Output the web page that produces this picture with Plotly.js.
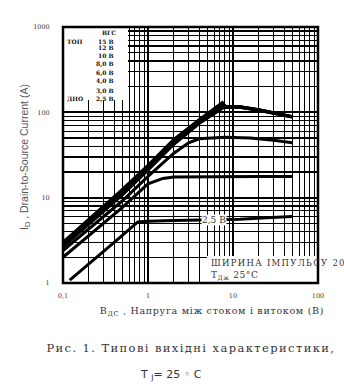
<!DOCTYPE html>
<html><head><meta charset="utf-8">
<script src="https://cdn.plot.ly/plotly-3.0.1.min.js"></script>
<style>html,body{margin:0;padding:0;background:#fff}#chart{width:344px;height:384px}</style>
</head><body><div id="chart"></div>
<script>
// ---- data ----
const vgsLabels = ['15 В','12 В','10 В','8,0 В','6,0 В','4,0 В','3,0 В','2,5 В'];
const vdsHigh = [0.1,0.2,0.5,1,2,4,7.5,8.2,12,20,35,50];
const id15 = [3.0,5.6,12.5,24,48,82,130,117,116,107,96,89];
const id12 = [2.95,5.5,12.2,23.5,47,81,126,117,116,107,96,89];
const id10 = [2.85,5.3,11.8,23,46,79,121,117,116,107,96,89];
const id8  = [2.75,5.1,11.3,22,44,77,117,116,115,106,95,88];
const id6  = [2.65,4.9,10.8,21,42,74,112,114,115,106,95,88];
const vds4 = [0.1,0.2,0.5,1,2,3,4,8,16,30,50];
const id4  = [2.4,4.3,9.2,17.8,33,44,49,51,50,47,44];
const vds3 = [0.1,0.2,0.5,1,1.5,2,5,20,50];
const id3  = [2.0,3.6,7.7,14.5,16.8,17.5,17.7,17.7,17.7];
const vds25 = [0.12,0.2,0.4,0.76,1,2,5,12,25,50];
const id25  = [1.08,1.65,3.0,5.2,5.3,5.4,5.5,5.6,5.8,6.0];
const xTickVals = [0.1,1,10,100];
const xTickText = ['0,1','1','10','100'];
const yTickVals = [1,10,100,1000];
const yTickText = ['1','10','100','1000'];
const gridDigits = [2,3,4,5,6,7,8,9];

const minorX = [], minorY = [];
[0.1,1,10].forEach(d=>gridDigits.forEach(k=>minorX.push(k*d)));
[1,10,100].forEach(d=>gridDigits.forEach(k=>minorY.push(k*d)));

const series = [
  [vdsHigh,id15],[vdsHigh,id12],[vdsHigh,id10],[vdsHigh,id8],[vdsHigh,id6],
  [vds4,id4],[vds3,id3],[vds25,id25]
];
const traces = series.map((s,i)=>({
  x:s[0], y:s[1], type:'scatter', mode:'lines', name:vgsLabels[i],
  line:{color:'black', width:3}, showlegend:false, hoverinfo:'skip'
}));

const serif = 'DejaVu Serif, Liberation Serif, serif';
const txtCol = '#333';

const W=344, H=384, L=63, R=26, T=27, B=101;
const pw=W-L-R, ph=H-T-B;
const px = v => (v-L)/pw;
const py = v => (H-B-v)/ph;

const annotations = [];
const spacing = {};
function ann(o, ls){ o.xref='paper'; o.yref='paper'; o.showarrow=false;
  if(!o.xanchor) o.xanchor='center'; if(!o.yanchor) o.yanchor='middle';
  annotations.push(o); if(ls) spacing[annotations.length-1]=ls; }
const legFont = {family:serif,size:6,color:'#111'};
ann({x:px(108.5),y:py(32),text:'<b>ВГС</b>',font:legFont});
ann({x:px(65),y:py(41),xanchor:'left',text:'<b>ТОП</b>',font:legFont});
ann({x:px(65),y:py(98),xanchor:'left',text:'<b>ДНО</b>',font:legFont});
const legY=[41,47,55,63,72,80,90,98];
vgsLabels.forEach((t,i)=>ann({x:px(116),y:py(legY[i]),xanchor:'right',align:'right',text:'<b>'+t+'</b>',font:legFont}));
// curve label
ann({x:px(214),y:py(220),text:'2,5 В',bgcolor:'white',borderpad:0,font:{family:serif,size:9,color:txtCol}});
// pulse box text
ann({x:px(209),y:py(263),xanchor:'left',align:'left',text:'ШИРИНА ІМПУЛЬСУ 20 мкс',font:{family:serif,size:8.5,color:txtCol}},1.3);
ann({x:px(209),y:py(275),xanchor:'left',align:'left',text:'T<sub>Дж</sub> 25°C',font:{family:serif,size:9,color:txtCol}},0.6);
// axis titles
ann({x:px(25),y:py(157),textangle:-90,text:'I<sub>D</sub> , Drain-to-Source Current (A)',font:{family:'Liberation Sans Narrow, Liberation Sans, Arial, sans-serif',size:10.5,color:'#555'}});
ann({x:px(212),y:py(311),text:'В<sub>ДС</sub> , Напруга між стоком і витоком (В)',font:{family:serif,size:9.5,color:txtCol}},0.7);
// caption
ann({x:px(191),y:py(348),text:'Рис. 1. Типові вихідні характеристики,',font:{family:serif,size:11.5,color:txtCol}},1.4);
ann({x:px(171),y:py(375),text:'T <sub>J</sub>= 25 ◦ C',font:{family:'DejaVu Sans, sans-serif',size:11,color:txtCol}});

const shapes = [
  {type:'rect',xref:'paper',yref:'paper',x0:0,x1:px(128),y0:py(100),y1:1,fillcolor:'white',line:{width:0},layer:'above'},
  {type:'rect',xref:'paper',yref:'paper',x0:px(207),x1:1,y0:0,y1:py(256),fillcolor:'white',line:{width:0},layer:'above'},
  {type:'rect',xref:'paper',yref:'paper',x0:0,x1:1,y0:0,y1:1,line:{color:'black',width:2.5},layer:'above'}
];

const layout = {
  width:W, height:H, margin:{l:L,r:R,t:T,b:B},
  paper_bgcolor:'white', plot_bgcolor:'white', showlegend:false,
  xaxis:{type:'log', range:[-1,2], tickmode:'array', tickvals:xTickVals, ticktext:xTickText,
    showgrid:true, gridcolor:'black', gridwidth:1.8, zeroline:false,
    ticks:'outside', ticklen:6, tickcolor:'rgba(0,0,0,0)',
    tickfont:{family:serif,size:6.5,color:txtCol},
    minor:{tickmode:'array', tickvals:minorX, showgrid:true, gridcolor:'black', gridwidth:1.2, ticks:''},
    showline:false},
  yaxis:{type:'log', range:[0,3], tickmode:'array', tickvals:yTickVals, ticktext:yTickText,
    showgrid:true, gridcolor:'black', gridwidth:1.8, zeroline:false,
    ticks:'outside', ticklen:11, tickcolor:'rgba(0,0,0,0)',
    tickfont:{family:serif,size:6.5,color:txtCol},
    minor:{tickmode:'array', tickvals:minorY, showgrid:true, gridcolor:'black', gridwidth:1.2, ticks:''},
    showline:false},
  annotations:annotations, shapes:shapes
};
Plotly.newPlot('chart', traces, layout, {staticPlot:true, displayModeBar:false}).then(()=>{
  Object.keys(spacing).forEach(i=>{
    document.querySelectorAll('g.annotation[data-index="'+i+'"] text').forEach(t=>{
      t.style.letterSpacing = spacing[i]+'px';
    });
  });
});
</script>
</body></html>
